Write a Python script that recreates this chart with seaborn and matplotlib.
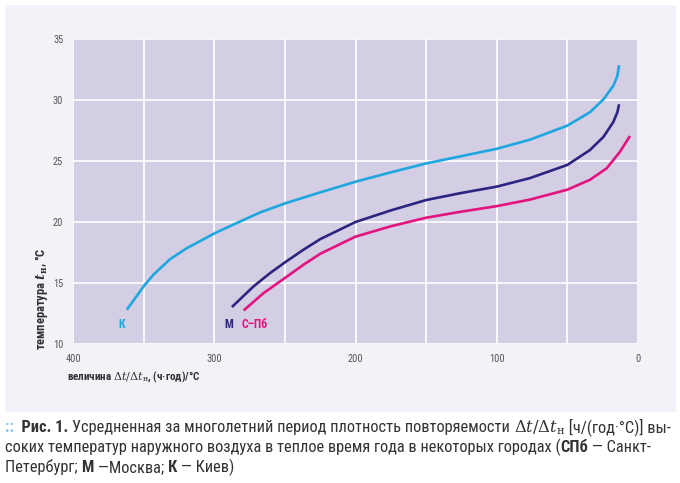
import numpy as np
import pandas as pd
import matplotlib
matplotlib.use("Agg")
import matplotlib.pyplot as plt
import matplotlib.font_manager as fm
from matplotlib.patches import Rectangle
import seaborn as sns

# ---- data ----
k_x = [361.9, 350, 343.1, 331.3, 319.5, 299.3, 284, 267.4, 249, 224.9, 200, 175, 150, 125, 100,
       76.4, 50, 34, 24.5, 17.5, 14.6, 13.4]
k_y = [12.81, 14.72, 15.68, 16.95, 17.85, 19.1, 19.92, 20.79, 21.56, 22.43, 23.3, 24.07, 24.8,
       25.4, 26.0, 26.75, 27.9, 29.0, 30.05, 31.16, 31.97, 32.85]
m_x = [287.5, 272.2, 260.4, 249, 236.8, 224.9, 200, 175, 150, 125, 100, 76.4, 50, 34, 24.5,
       17.5, 14.6, 13.4]
m_y = [13.03, 14.72, 15.82, 16.77, 17.73, 18.6, 20.0, 20.95, 21.8, 22.38, 22.9, 23.6, 24.68,
       25.9, 26.97, 28.19, 29.0, 29.65]
s_x = [279.2, 265, 249, 236.8, 224.9, 200, 175, 150, 125, 100, 76.4, 50, 34, 22.2, 12.8, 5.7]
s_y = [12.75, 14.18, 15.49, 16.5, 17.4, 18.8, 19.65, 20.35, 20.85, 21.3, 21.84, 22.65, 23.46,
       24.4, 25.75, 27.05]
series_names = ["К", "М", "С–Пб"]
x_ticks = [400, 300, 200, 100, 0]
y_ticks = [10, 15, 20, 25, 30, 35]

# ---- style ----
sns.set_theme(style="white")
names = {f.name for f in fm.fontManager.ttflist}
cond_family = None
cond_stretch = "normal"
for n in ["Roboto Condensed", "Open Sans Condensed", "Liberation Sans Narrow", "Arial Narrow"]:
    if n in names:
        cond_family = n
        break
if cond_family is None:
    if any(f.name == "DejaVu Sans" and f.stretch == "condensed" for f in fm.fontManager.ttflist):
        cond_family = "DejaVu Sans"
        cond_stretch = "condensed"
    else:
        cond_family = "DejaVu Sans"
plt.rcParams["font.family"] = [cond_family, "DejaVu Sans"]
plt.rcParams["font.stretch"] = cond_stretch
plt.rcParams["mathtext.fontset"] = "dejavuserif"

C_K = "#1ea6df"
C_M = "#2c2580"
C_S = "#e2137e"
PLOT_BG = "#d3cee4"
PANEL = "#f3f2f8"
TXT = "#333333"

W, H = 680, 483
fig = plt.figure(figsize=(6.8, 4.83), dpi=100, facecolor="white")
fig.patches.append(Rectangle((5 / W, 1 - 412 / H), 671 / W, 407 / H,
                             transform=fig.transFigure, facecolor=PANEL,
                             edgecolor="none", zorder=-10))

ax = fig.add_axes([73 / W, 1 - 344 / H, (638 - 73) / W, (344 - 39) / H])
ax.set_facecolor(PLOT_BG)

df = pd.concat([
    pd.DataFrame({"x": k_x, "y": k_y, "s": series_names[0]}),
    pd.DataFrame({"x": m_x, "y": m_y, "s": series_names[1]}),
    pd.DataFrame({"x": s_x, "y": s_y, "s": series_names[2]}),
])
sns.lineplot(data=df, x="x", y="y", hue="s", palette=[C_K, C_M, C_S],
             sort=False, estimator=None, linewidth=1.9, legend=False, ax=ax)
for ln in ax.get_lines():
    ln.set_solid_joinstyle("round")
    ln.set_solid_capstyle("butt")

ax.set_xlim(400, 0)
ax.set_ylim(10, 35)
ax.set_xticks(np.arange(400, -1, -50), minor=False)
ax.set_yticks(y_ticks)
ax.grid(True, color="white", linewidth=1.2)
ax.set_axisbelow(True)
for sp in ax.spines.values():
    sp.set_visible(False)
ax.tick_params(length=0, labelsize=7.5, labelcolor="#555555", pad=7)
ax.set_xticklabels([str(v) if v in x_ticks else "" for v in np.arange(400, -1, -50)])
ax.set_yticklabels([str(v) for v in y_ticks])
ax.set_xlabel("")
ax.set_ylabel("")

# curve labels
lab_kw = dict(fontsize=8.5, fontweight="bold", ha="center", va="center")
ax.text(365.3, 11.6, series_names[0], color=C_K, **lab_kw)
ax.text(289.6, 11.6, series_names[1], color=C_M, **lab_kw)
ax.text(271.5, 11.6, series_names[2], color=C_S, **lab_kw)

# axis labels
fig.text(42 / W, 1 - 350 / H, r"температура $\mathbfit{t}_{\mathbf{н}}$, °С",
         rotation=90, ha="center", va="bottom", fontsize=9,
         fontweight="bold", color=TXT)
fig.text(67 / W, 1 - 377 / H, r"величина $\Delta t/\Delta t_{\mathrm{н}}$, (ч·год)/°С",
         ha="left", va="center", fontsize=8, fontweight="bold", color=TXT)

# caption with mixed styles
fig.canvas.draw()
renderer = fig.canvas.get_renderer()


def draw_segments(segs, x0_px, y_px, size):
    x = x0_px
    for s, weight, color in segs:
        t = fig.text(x / W, 1 - y_px / H, s, fontsize=size, fontweight=weight,
                     color=color, ha="left", va="baseline")
        bb = t.get_window_extent(renderer=renderer)
        x += bb.width


CAP = 11.8
draw_segments([("::", "bold", "#7cc4ea"), ("  Рис. 1. ", "bold", TXT),
               (r"Усредненная за многолетний период плотность повторяемости ", "normal", TXT),
               (r"$\Delta t/\Delta t_{\mathrm{н}}$", "normal", TXT),
               (" [ч/(год·°С)] вы-", "normal", TXT)], 5, 432, CAP)
draw_segments([("соких температур наружного воздуха в теплое время года в некоторых городах (", "normal", TXT),
               ("СПб", "bold", TXT), (" — Санкт-", "normal", TXT)], 5, 452, CAP)
draw_segments([("Петербург; ", "normal", TXT), ("М", "bold", TXT), (" —Москва; ", "normal", TXT),
               ("К", "bold", TXT), (" — Киев)", "normal", TXT)], 5, 472, CAP)

fig.savefig("out.png", dpi=100, facecolor="white")
